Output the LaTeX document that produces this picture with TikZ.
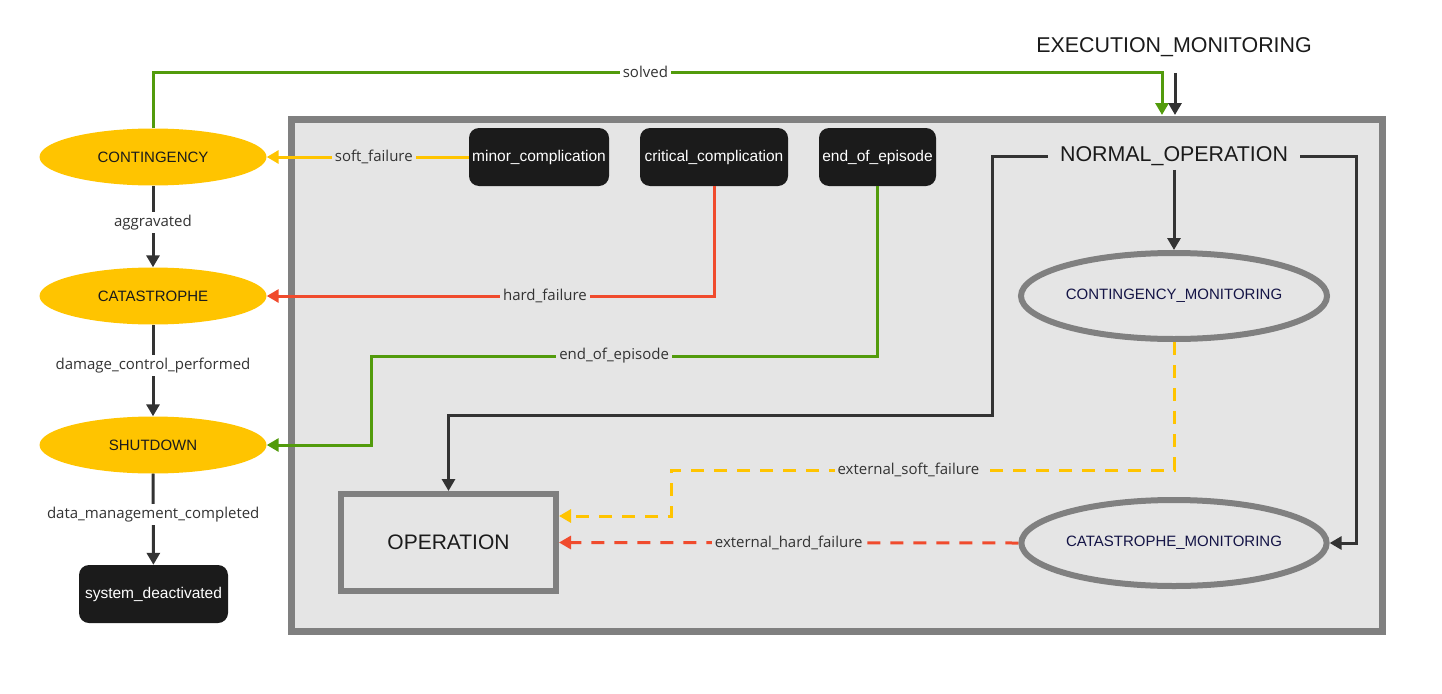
\documentclass[tikz,border=0pt]{standalone}
\usepackage{fontspec}
\setmainfont{Liberation Sans}
\newfontfamily\labelfont{Open Sans}
\usetikzlibrary{arrows.meta,shapes.geometric}

\definecolor{stateyellow}{RGB}{255,196,0}
\definecolor{eventblack}{RGB}{27,27,27}
\definecolor{framegray}{RGB}{128,128,128}
\definecolor{boxgray}{RGB}{229,229,229}
\definecolor{linedark}{RGB}{51,51,51}
\definecolor{passgreen}{RGB}{82,155,12}
\definecolor{failred}{RGB}{240,75,45}
\definecolor{monitornavy}{RGB}{20,20,70}

\begin{document}
\begin{tikzpicture}[x=1pt, y=-1pt,
    state/.style={ellipse, fill=stateyellow, text=eventblack, minimum width=227pt,
      minimum height=57pt, inner sep=0pt, font=\fontsize{15}{18}\selectfont},
    event/.style={rectangle, rounded corners=10pt, fill=eventblack, text=white,
      minimum height=58pt, inner sep=2pt, font=\fontsize{15.5}{18}\selectfont},
    monitor/.style={ellipse, draw=framegray, line width=6pt, fill=boxgray, text=monitornavy,
      minimum width=300pt, minimum height=86pt, inner sep=0pt, font=\fontsize{15}{18}\selectfont},
    title/.style={text=eventblack, inner xsep=12pt, inner ysep=4pt, font=\fontsize{21.4}{25}\selectfont},
    trans/.style={line width=3pt, -{Triangle[length=12pt,width=13pt]}},
    lbl/.style={text=linedark, inner sep=3pt, font=\labelfont\fontsize{15}{18}\selectfont},
  ]
    \useasboundingbox (0,0) rectangle (1442,693);

    % execution monitoring frame
    \draw[framegray, line width=7pt, fill=boxgray] (291.5,119.5) rectangle (1382.5,631.5);
    \coordinate (solvedturn) at (1162,72);
    \coordinate (solvedin) at (1162,115);
    \coordinate (execin) at (1175,115);
    \coordinate (opturn) at (992,415);
    \coordinate (catturn) at (1356,543);
    \coordinate (softturn) at (671,470);
    \coordinate (eoeturn) at (371,356);

    \foreach \name/\y/\txt in {cont/157/CONTINGENCY, cata/296/CATASTROPHE, shut/445/SHUTDOWN} {
      \node[state] (\name) at (153,\y) {\txt};
    }
    \node[event, minimum width=149pt] (deact) at (153.5,594) {system\_deactivated};

    \foreach \name/\x/\w/\txt in {minor/539/140/{minor\_complication},
        crit/714/148/{critical\_complication}, eoe/877.5/117/{end\_of\_episode}} {
      \node[event, minimum width=\w pt] (\name) at (\x,157) {\txt};
    }

    \node[title] (exec) at (1174,47) {EXECUTION\_MONITORING};
    \node[title] (normal) at (1174,156) {NORMAL\_OPERATION};
    \node[monitor] (contm) at (1174,296) {CONTINGENCY\_MONITORING};
    \node[monitor] (catm) at (1174,543) {CATASTROPHE\_MONITORING};
    \node[title, draw=framegray, line width=6pt, fill=boxgray, minimum width=215pt,
      minimum height=97pt, font=\fontsize{21}{25}\selectfont] (oper) at (448.5,542.5) {OPERATION};

    % left column
    \draw[trans, linedark] (cont) -- node[lbl, fill=white, pos=.45] {aggravated} (cata);
    \draw[trans, linedark] (cata) -- node[lbl, fill=white, pos=.45] {damage\_control\_performed} (shut);
    \draw[trans, linedark] (shut) -- node[lbl, fill=white, pos=.45] {data\_management\_completed} (deact);
    \draw[trans, passgreen] (cont.north) |- node[lbl, fill=white, pos=.744] {solved} (solvedturn) -- (solvedin);
    \draw[trans, linedark, shorten <=12pt] (exec.south -| execin) -- (execin);

    % complications
    \draw[trans, stateyellow] (minor.west) -- node[lbl, fill=boxgray, pos=.47] {soft\_failure} (cont.east);
    \draw[trans, failred] (crit.south) |- node[lbl, fill=boxgray, pos=.689] {hard\_failure} (cata.east);
    \draw[trans, passgreen] (eoe.south) |- node[lbl, fill=boxgray, pos=.76] {end\_of\_episode} (eoeturn) |- (shut.east);

    % normal operation
    \draw[trans, linedark] (normal.south) -- (contm.north);
    \draw[trans, linedark] (normal.west) -| (opturn) -| (oper.north);
    \draw[trans, linedark] (normal.east) -| (catturn) -- (catm.east);
    \draw[trans, stateyellow, dash pattern=on 13pt off 10pt] (contm.south) |- node[lbl, fill=boxgray, pos=.764] {external\_soft\_failure} (softturn) |- ([yshift=26.5pt]oper.east);
    \draw[trans, failred, dash pattern=on 13pt off 10pt] (catm.west) -- node[lbl, fill=boxgray] {external\_hard\_failure} (oper.east);
\end{tikzpicture}
\end{document}
